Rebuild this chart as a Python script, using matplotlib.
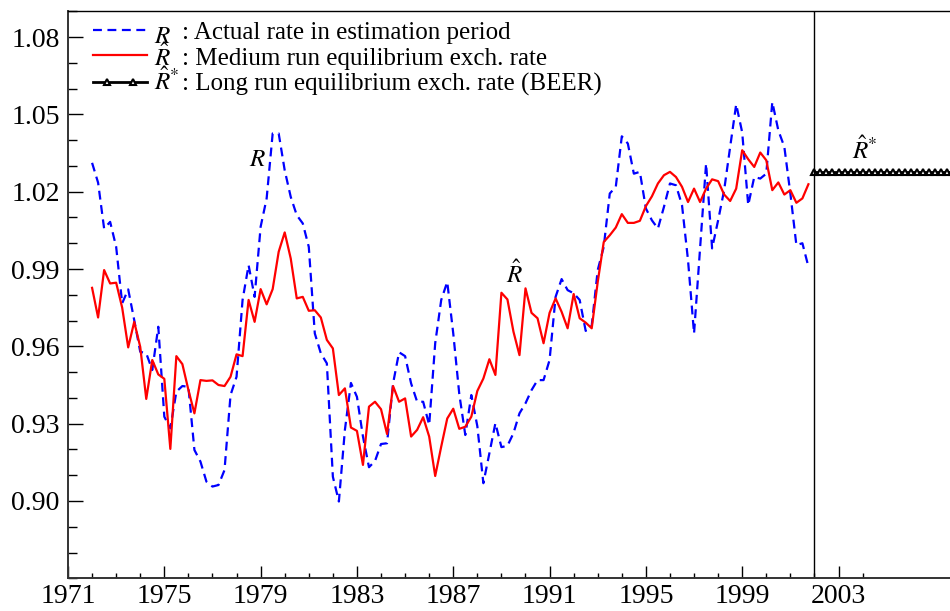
import numpy as np
import matplotlib
matplotlib.use("Agg")
import matplotlib.pyplot as plt
from matplotlib.ticker import FixedLocator
from matplotlib.lines import Line2D

plt.rcParams['font.family'] = ['Liberation Serif', 'DejaVu Serif']
plt.rcParams['mathtext.fontset'] = 'stix'

# quarterly data 1972Q1 .. 2001Q4
start_year = 1972.0
actual_rate = [
    1.0312, 1.0235, 1.0057, 1.0083, 0.9986, 0.9767, 0.9821, 0.9702,
    0.9579, 0.9573, 0.9508, 0.9676, 0.9327, 0.9282, 0.9424, 0.9446,
    0.9443, 0.9198, 0.9153, 0.9075, 0.9056, 0.9062, 0.9120, 0.9411,
    0.9482, 0.9780, 0.9915, 0.9792, 1.0064, 1.0174, 1.0426, 1.0426,
    1.0283, 1.0180, 1.0109, 1.0077, 0.9986, 0.9650, 0.9573, 0.9534,
    0.9094, 0.8998, 0.9276, 0.9458, 0.9404, 0.9250, 0.9131, 0.9155,
    0.9221, 0.9224, 0.9456, 0.9577, 0.9562, 0.9456, 0.9385, 0.9385,
    0.9295, 0.9612, 0.9780, 0.9850, 0.9650, 0.9415, 0.9256, 0.9411,
    0.9290, 0.9069, 0.9185, 0.9302, 0.9209, 0.9214, 0.9263, 0.9340,
    0.9379, 0.9430, 0.9469, 0.9469, 0.9547, 0.9792, 0.9861, 0.9818,
    0.9806, 0.9780, 0.9660, 0.9680, 0.9896, 0.9986, 1.0193, 1.0219,
    1.0415, 1.0387, 1.0270, 1.0277, 1.0135, 1.0089, 1.0057, 1.0141,
    1.0232, 1.0225, 1.0148, 0.9934, 0.9650, 0.9980, 1.0309, 0.9980,
    1.0089, 1.0206, 1.0374, 1.0539, 1.0430, 1.0148, 1.0257, 1.0251,
    1.0270, 1.0548, 1.0438, 1.0374, 1.0193, 0.9993, 1.0000, 0.9909,
]
medium_run = [
    0.9827, 0.9712, 0.9896, 0.9844, 0.9847, 0.9750, 0.9596, 0.9695,
    0.9598, 0.9396, 0.9547, 0.9491, 0.9474, 0.9202, 0.9562, 0.9531,
    0.9431, 0.9340, 0.9469, 0.9466, 0.9468, 0.9450, 0.9446, 0.9482,
    0.9569, 0.9562, 0.9780, 0.9695, 0.9822, 0.9763, 0.9822, 0.9967,
    1.0042, 0.9941, 0.9786, 0.9792, 0.9738, 0.9740, 0.9712, 0.9625,
    0.9592, 0.9411, 0.9437, 0.9285, 0.9272, 0.9140, 0.9366, 0.9385,
    0.9356, 0.9260, 0.9446, 0.9385, 0.9398, 0.9250, 0.9276, 0.9325,
    0.9250, 0.9097, 0.9211, 0.9320, 0.9358, 0.9280, 0.9288, 0.9327,
    0.9427, 0.9475, 0.9550, 0.9489, 0.9808, 0.9782, 0.9657, 0.9566,
    0.9825, 0.9730, 0.9709, 0.9612, 0.9730, 0.9786, 0.9734, 0.9670,
    0.9803, 0.9709, 0.9692, 0.9670, 0.9850, 1.0005, 1.0031, 1.0061,
    1.0113, 1.0079, 1.0079, 1.0087, 1.0144, 1.0182, 1.0232, 1.0264,
    1.0277, 1.0257, 1.0219, 1.0160, 1.0212, 1.0160, 1.0212, 1.0248,
    1.0241, 1.0189, 1.0164, 1.0212, 1.0361, 1.0326, 1.0296, 1.0352,
    1.0322, 1.0206, 1.0236, 1.0189, 1.0206, 1.0157, 1.0174, 1.0229,
]
beer_value = 1.0275
beer_start = 2002.0
beer_end = 2007.75

legend_symbols = [r'$R$', r'$\hat{R}$', r'$\hat{R}^{*}$']
legend_texts = [': Actual rate in estimation period',
                ': Medium run equilibrium exch. rate',
                ': Long run equilibrium exch. rate (BEER)']

x_major = list(range(1971, 2004, 4))
x_minor = list(range(1971, 2005))
y_major = [0.90, 0.93, 0.96, 0.99, 1.02, 1.05, 1.08]
y_minor = [round(0.87 + 0.01 * i, 2) for i in range(23)]

years = start_year + 0.25 * np.arange(len(actual_rate))
beer_years = np.arange(beer_start, beer_end + 0.001, 0.25)
beer_vals = np.full(len(beer_years), beer_value)

W, H = 950, 611
fig = plt.figure(figsize=(W / 100, H / 100), dpi=100)
ax = fig.add_axes([68 / W, 1 - 578.3 / H, 1 - 68 / W, (578.3 - 11.3) / H])

blue_style = dict(color='#0000ff', lw=1.6, dashes=(4, 2.5))
red_style = dict(color='#ff0000', lw=1.6)
black_style = dict(color='black', lw=2.0, marker='^', ms=5,
                   mfc='white', mec='black', mew=1.5)

ax.plot(years, actual_rate, **blue_style)
ax.plot(years, medium_run, **red_style)
ax.plot(beer_years, beer_vals, **black_style)
ax.axvline(beer_start, color='black', lw=1.0)

ax.set_xlim(1971, 2007.63)
ax.set_ylim(0.87, 1.09)

ax.xaxis.set_major_locator(FixedLocator(x_major))
ax.xaxis.set_minor_locator(FixedLocator(x_minor))
ax.yaxis.set_major_locator(FixedLocator(y_major))
ax.yaxis.set_minor_locator(FixedLocator(y_minor))
ax.set_xticklabels([str(v) for v in x_major])
ax.set_yticklabels([f'{v:.2f}' for v in y_major])

ax.tick_params(axis='x', which='major', direction='in', length=8.4, width=1.0,
               labelsize=20, pad=4)
ax.tick_params(axis='x', which='minor', direction='in', length=3.6, width=1.0)
ax.tick_params(axis='y', which='major', direction='in', length=11, width=1.0,
               labelsize=20, pad=6)
ax.tick_params(axis='y', which='minor', direction='in', length=6.5, width=1.0)

ax.spines['right'].set_visible(False)
for s in ['left', 'bottom']:
    ax.spines[s].set_linewidth(1.4)
    ax.spines[s].set_color('#333333')
ax.spines['top'].set_linewidth(1.0)

# curve labels
ax.text(1978.85, 1.0322, r'$R$', fontsize=18, ha='center', va='center')
ax.text(1989.53, 0.988, r'$\hat{R}$', fontsize=18, ha='center', va='center')
ax.text(2004.1, 1.036, r'$\hat{R}^{*}$', fontsize=18, ha='center', va='center')

# legend drawn by hand (tight rows as in the reference)
def fx(px):
    return px / W

def fy(py):
    return 1 - py / H

line_y = [29.5, 55.0, 81.5]
base_y = [39.5, 64.8, 90.2]
styles = [blue_style, red_style, black_style]
for i in range(3):
    st = dict(styles[i])
    if i == 2:
        st['markevery'] = [1, 2]
        xs = [fx(93), fx(107), fx(133), fx(147)]
        ys = [fy(line_y[i])] * 4
    else:
        xs = [fx(93), fx(147)]
        ys = [fy(line_y[i])] * 2
    fig.add_artist(Line2D(xs, ys, transform=fig.transFigure, **st))
    fig.text(fx(182), fy(base_y[i]), legend_texts[i], fontsize=18,
             ha='left', va='baseline')

# the three symbols as one block of lines (baseline = last line)
fig.text(fx(154), fy(base_y[2]), '\n'.join(legend_symbols), fontsize=18,
         ha='left', va='baseline', linespacing=0.83)

fig.savefig('out.png', dpi=100)
